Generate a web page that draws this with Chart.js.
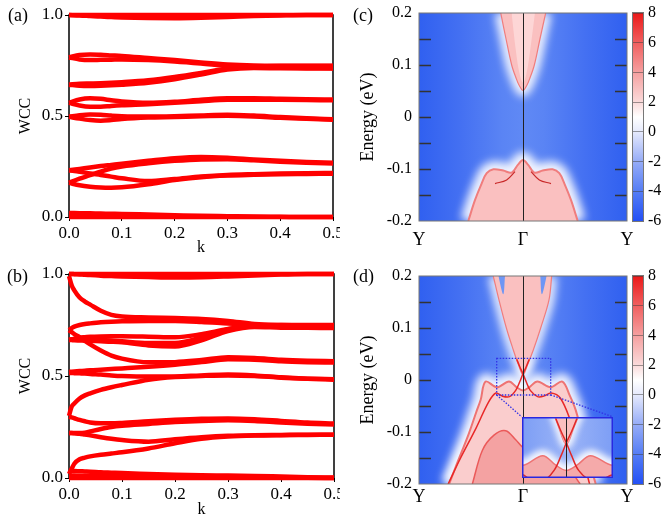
<!DOCTYPE html>
<html lang="en">
<head>
<meta charset="UTF-8">
<title>WCC and surface states</title>
<script src="https://cdn.jsdelivr.net/npm/chart.js"></script>
<style>
  body { margin: 0; background: #fff; }
  #fig { position: relative; width: 661px; height: 519px; overflow: hidden; font-family: 'Liberation Serif', 'Times New Roman', serif; }
  #fig canvas { position: absolute; }
  .tag { position: absolute; font-size: 18px; line-height: 20px; color: #000; }
</style>
</head>
<body>
<div id="fig">
  <canvas id="ca" width="340" height="258" style="left:0;top:0"></canvas>
  <canvas id="cb" width="340" height="261" style="left:0;top:258px"></canvas>
  <canvas id="cc" width="321" height="258" style="left:340px;top:0"></canvas>
  <canvas id="cd" width="321" height="261" style="left:340px;top:258px"></canvas>
  <canvas id="cbc" width="31" height="258" style="left:630px;top:0"></canvas>
  <canvas id="cbd" width="31" height="261" style="left:630px;top:258px"></canvas>
  <canvas id="cin" width="10" height="10" style="left:0;top:0"></canvas>
  <div class="tag" style="left:8px;top:5px">(a)</div>
  <div class="tag" style="left:7px;top:266px">(b)</div>
  <div class="tag" style="left:353px;top:5px">(c)</div>
  <div class="tag" style="left:353px;top:266px">(d)</div>
</div>

<script>
const SERIF = 'Liberation Serif';
const RED = 'rgb(255,0,0)';
const f = size => ({ family: SERIF, size });

// axis ticks
const kTicks = [0, 0.1, 0.2, 0.3, 0.4, 0.5];
const kLabels = ['0.0', '0.1', '0.2', '0.3', '0.4', '0.5'];
const wTicks = [0, 0.5, 1];
const wLabels = ['0.0', '0.5', '1.0'];
const pathTicks = [-1, 0, 1];
const pathLabels = ['Y', 'Γ', 'Y'];
const eTicks = [-0.2, -0.15, -0.1, -0.05, 0, 0.05, 0.1, 0.15, 0.2];
const eLabels = ['-0.2', '', '-0.1', '', '0', '', '0.1', '', '0.2'];
const cbTicks = [-6, -4, -2, 0, 2, 4, 6, 8];
const cbLabels = ['-6', '-4', '-2', '0', '2', '4', '6', '8'];

// (a) WCC, one k grid for all curves
const kA = [0, 0.02, 0.04, 0.06, 0.08, 0.1, 0.15, 0.2, 0.25, 0.3, 0.35, 0.4, 0.45, 0.5];
const aTopFlat = [1, 1, 1, 1, 1, 1, 1, 1, 1, 1, 1, 1, 1, 1];
const aTopDip = [1.0, 0.998, 0.995, 0.992, 0.99, 0.988, 0.985, 0.984, 0.986, 0.99, 0.995, 0.998, 1.0, 1.0];
const aU1 = [0.79, 0.802, 0.805, 0.803, 0.8, 0.797, 0.787, 0.777, 0.765, 0.755, 0.75, 0.749, 0.749, 0.749];
const aU2 = [0.79, 0.78, 0.777, 0.778, 0.779, 0.78, 0.777, 0.77, 0.76, 0.748, 0.742, 0.739, 0.738, 0.737];
const aL1 = [0.655, 0.66, 0.661, 0.662, 0.664, 0.667, 0.677, 0.693, 0.713, 0.735, 0.745, 0.748, 0.748, 0.748];
const aL2 = [0.655, 0.65, 0.649, 0.65, 0.652, 0.655, 0.665, 0.682, 0.705, 0.73, 0.738, 0.736, 0.735, 0.735];
const aM1 = [0.565, 0.582, 0.588, 0.585, 0.578, 0.572, 0.565, 0.57, 0.58, 0.588, 0.588, 0.585, 0.583, 0.582];
const aM2 = [0.565, 0.552, 0.546, 0.546, 0.55, 0.553, 0.558, 0.565, 0.573, 0.58, 0.581, 0.58, 0.579, 0.578];
const aN1 = [0.496, 0.504, 0.508, 0.506, 0.502, 0.499, 0.497, 0.499, 0.503, 0.506, 0.502, 0.495, 0.489, 0.484];
const aN2 = [0.496, 0.487, 0.48, 0.477, 0.48, 0.485, 0.492, 0.495, 0.499, 0.501, 0.498, 0.491, 0.486, 0.481];
const aP1 = [0.231, 0.238, 0.245, 0.252, 0.258, 0.264, 0.278, 0.291, 0.297, 0.293, 0.285, 0.278, 0.272, 0.268];
const aP2 = [0.169, 0.19, 0.207, 0.225, 0.24, 0.25, 0.266, 0.278, 0.285, 0.286, 0.281, 0.274, 0.269, 0.265];
const aP3 = [0.231, 0.224, 0.215, 0.208, 0.2, 0.192, 0.178, 0.188, 0.2, 0.208, 0.212, 0.215, 0.217, 0.218];
const aP4 = [0.169, 0.157, 0.15, 0.146, 0.145, 0.147, 0.162, 0.183, 0.197, 0.205, 0.209, 0.212, 0.213, 0.214];
const aBotTilt = [0.02, 0.019, 0.018, 0.017, 0.016, 0.015, 0.012, 0.009, 0.006, 0.004, 0.002, 0.001, 0, 0];
const aBotFlat = [0, 0, 0, 0, 0, 0, 0, 0, 0, 0, 0, 0, 0, 0];

// (b) WCC
const kB = [0, 0.005, 0.01, 0.02, 0.03, 0.04, 0.06, 0.08, 0.1, 0.15, 0.2, 0.25, 0.3, 0.35, 0.4, 0.45, 0.5];
const bTopFlat = [1, 1, 1, 1, 1, 1, 1, 1, 1, 1, 1, 1, 1, 1, 1, 1, 1];
const bTopDip = [1, 1, 0.999, 0.998, 0.996, 0.995, 0.992, 0.99, 0.988, 0.985, 0.983, 0.984, 0.988, 0.993, 0.997, 1, 1];
const bFall = [0.99, 0.945, 0.92, 0.885, 0.865, 0.85, 0.82, 0.8, 0.792, 0.787, 0.784, 0.78, 0.77, 0.755, 0.75, 0.749, 0.749];
const bA = [0.725, 0.735, 0.742, 0.75, 0.755, 0.758, 0.763, 0.766, 0.768, 0.77, 0.77, 0.765, 0.757, 0.75, 0.746, 0.745, 0.745];
const bB = [0.725, 0.715, 0.705, 0.69, 0.672, 0.655, 0.625, 0.6, 0.585, 0.567, 0.568, 0.578, 0.592, 0.588, 0.58, 0.575, 0.572];
const bC = [0.677, 0.68, 0.683, 0.688, 0.69, 0.692, 0.694, 0.695, 0.695, 0.693, 0.69, 0.705, 0.73, 0.745, 0.75, 0.75, 0.75];
const bD = [0.677, 0.678, 0.679, 0.68, 0.68, 0.679, 0.677, 0.674, 0.67, 0.662, 0.662, 0.69, 0.73, 0.745, 0.742, 0.739, 0.737];
const bE = [0.677, 0.676, 0.675, 0.674, 0.673, 0.672, 0.67, 0.668, 0.665, 0.65, 0.645, 0.675, 0.72, 0.74, 0.737, 0.736, 0.735];
const bQ1 = [0.52, 0.521, 0.522, 0.524, 0.526, 0.528, 0.531, 0.534, 0.537, 0.545, 0.555, 0.568, 0.582, 0.58, 0.572, 0.568, 0.566];
const bQ2 = [0.515, 0.515, 0.514, 0.513, 0.512, 0.51, 0.507, 0.503, 0.5, 0.497, 0.498, 0.503, 0.507, 0.503, 0.494, 0.487, 0.482];
const bG = [0.305, 0.35, 0.365, 0.39, 0.405, 0.415, 0.432, 0.445, 0.456, 0.482, 0.495, 0.5, 0.503, 0.5, 0.492, 0.487, 0.484];
const bH1 = [0.3, 0.297, 0.293, 0.285, 0.278, 0.272, 0.268, 0.268, 0.27, 0.278, 0.285, 0.29, 0.292, 0.288, 0.28, 0.272, 0.267];
const bH2 = [0.22, 0.22, 0.22, 0.22, 0.222, 0.228, 0.24, 0.25, 0.256, 0.265, 0.274, 0.28, 0.283, 0.28, 0.272, 0.266, 0.262];
const bH3 = [0.22, 0.22, 0.219, 0.217, 0.213, 0.209, 0.2, 0.192, 0.186, 0.178, 0.19, 0.2, 0.207, 0.21, 0.211, 0.212, 0.212];
const bH4 = [0.02, 0.045, 0.07, 0.092, 0.1, 0.106, 0.114, 0.12, 0.126, 0.145, 0.17, 0.192, 0.203, 0.208, 0.21, 0.211, 0.212];
const bZ1 = [0.035, 0.035, 0.034, 0.033, 0.032, 0.031, 0.028, 0.026, 0.024, 0.02, 0.016, 0.013, 0.012, 0.01, 0.007, 0.004, 0.002];
const bZ2 = [0.012, 0.012, 0.012, 0.011, 0.011, 0.01, 0.01, 0.009, 0.008, 0.006, 0.005, 0.005, 0.006, 0.005, 0.003, 0.001, 0];
const bZ3 = [0, 0, 0, 0, 0, 0, 0, 0, 0, 0, 0, 0, 0, 0, 0, 0, 0];

// (c) band edges, k along Y-Γ-Y (Γ = 0, Y = ±1), E in eV
const cCondK = [-0.214, -0.163, -0.109, -0.067, -0.035, 0, 0.035, 0.067, 0.109, 0.163, 0.218];
const cCondE = [0.2, 0.15, 0.1, 0.075, 0.06, 0.051, 0.06, 0.075, 0.1, 0.15, 0.2];
const cCoreK = [-0.11, -0.07, -0.035, 0, 0.035, 0.07, 0.115];
const cCoreE = [0.2, 0.13, 0.085, 0.066, 0.085, 0.13, 0.2];
const cValK = [-0.526, -0.462, -0.397, -0.349, -0.285, -0.19, -0.109, -0.05, 0, 0.05, 0.109, 0.19, 0.285, 0.349, 0.397, 0.462, 0.526];
const cValE = [-0.2, -0.16, -0.1275, -0.108, -0.1006, -0.103, -0.107, -0.092, -0.0827, -0.092, -0.107, -0.103, -0.1006, -0.108, -0.1275, -0.16, -0.2];
const cArcLK = [-0.269, -0.157, -0.077];
const cArcLE = [-0.128, -0.121, -0.105];
const cArcRK = [0.077, 0.157, 0.269];
const cArcRE = [-0.105, -0.121, -0.128];

// (d)
const dCondK = [-0.286, -0.231, -0.16, -0.093, -0.045, 0, 0.045, 0.099, 0.17, 0.25, 0.276];
const dCondE = [0.2, 0.154, 0.1, 0.0577, 0.03, 0.01, 0.03, 0.0577, 0.1, 0.154, 0.2];
const dSliverLK = [-0.237, -0.19, -0.173];
const dSliverLE = [0.2, 0.165, 0.2];
const dSliverRK = [0.165, 0.182, 0.228];
const dSliverRE = [0.2, 0.165, 0.2];
const dValK = [-0.71, -0.647, -0.519, -0.45, -0.407, -0.36, -0.25, -0.135, -0.06, 0, 0.06, 0.138, 0.266, 0.378, 0.45, 0.507, 0.6, 0.699];
const dValE = [-0.2, -0.167, -0.102, -0.062, -0.038, -0.003, -0.014, -0.003, -0.014, -0.02, -0.014, -0.003, -0.014, -0.003, -0.03, -0.058, -0.128, -0.2];
const dDomeK = [-0.487, -0.39, -0.279, -0.167, -0.07, 0, 0.1, 0.25, 0.4, 0.55];
const dDomeE = [-0.2, -0.135, -0.106, -0.0975, -0.115, -0.13, -0.14, -0.145, -0.16, -0.2];
const dSurfLK = [-0.72, -0.6, -0.45, -0.33, -0.26, -0.2, -0.13, -0.07, -0.03, 0, 0.03, 0.06];
const dSurfLE = [-0.2, -0.15, -0.092, -0.042, -0.025, -0.031, -0.032, -0.02, -0.003, 0.012, 0.025, 0.04];
const dSurfRK = [-0.06, -0.03, 0, 0.03, 0.07, 0.14, 0.2, 0.27, 0.36, 0.46, 0.56, 0.64];
const dSurfRE = [0.04, 0.025, 0.012, -0.003, -0.02, -0.032, -0.031, -0.025, -0.035, -0.08, -0.14, -0.2];

// zoomed window of (d) and where its inset sits, in (k, E)
const ZOOM_K = [-0.253, 0.266];
const ZOOM_E = [-0.0288, 0.0417];
const INSET_K = [-0.0125, 0.862];
const INSET_E = [-0.188, -0.0706];

Chart.defaults.font.family = SERIF;
Chart.defaults.color = '#000';

const pts = (xs, ys) => xs.map((v, i) => ({ x: v, y: ys[i] }));

// black box around the WCC plots, under the dots
const wccFrame = {
  id: 'wccFrame',
  beforeDatasetsDraw(chart) {
    const { ctx, chartArea: a } = chart;
    ctx.save();
    ctx.strokeStyle = '#000';
    ctx.lineWidth = 1.5;
    ctx.strokeRect(a.left, a.top, a.width, a.height);
    ctx.restore();
  }
};

function wccChart(id, kGrid, curves, pad, xH, titleBottom) {
  return new Chart(document.getElementById(id), {
    type: 'line',
    data: {
      datasets: curves.map(w => ({
        data: pts(kGrid, w),
        borderColor: RED,
        borderWidth: 4.5,
        pointRadius: 0,
        cubicInterpolationMode: 'monotone',
        fill: false,
        clip: 6
      }))
    },
    options: {
      responsive: false,
      animation: false,
      layout: { padding: pad },
      plugins: { legend: { display: false }, tooltip: { enabled: false } },
      scales: {
        x: {
          type: 'linear', min: 0, max: 0.5,
          afterBuildTicks: s => { s.ticks = kTicks.map(v => ({ value: v })); },
          ticks: { callback: (v, i) => kLabels[i], font: f(17), color: '#000', padding: 2, maxRotation: 0, autoSkip: false },
          grid: { drawOnChartArea: false, tickLength: 4, color: '#000' },
          border: { display: false },
          title: { display: true, text: 'k', font: f(16), color: '#000', padding: { top: 0, bottom: titleBottom } },
          afterFit: s => { s.height = xH; s.paddingLeft = 0; s.paddingRight = 0; }
        },
        y: {
          type: 'linear', min: 0, max: 1,
          afterBuildTicks: s => { s.ticks = wTicks.map(v => ({ value: v })); },
          ticks: { callback: (v, i) => wLabels[i], font: f(17), color: '#000', padding: 2, autoSkip: false },
          grid: { drawOnChartArea: false, tickLength: 4, color: '#000' },
          border: { display: false },
          title: { display: true, text: 'WCC', font: f(16), color: '#000', padding: { top: 16, bottom: 0 } },
          afterFit: s => { s.width = 69; s.paddingTop = 0; s.paddingBottom = 0; }
        }
      }
    },
    plugins: [wccFrame]
  });
}

wccChart('ca', kA,
  [aTopFlat, aTopDip, aU1, aU2, aL1, aL2, aM1, aM2, aN1, aN2, aP1, aP2, aP3, aP4, aBotTilt, aBotFlat],
  { top: 15, right: 7, left: 0, bottom: 0 }, 41, 1);

wccChart('cb', kB,
  [bTopFlat, bTopDip, bFall, bA, bB, bC, bD, bE, bQ1, bQ2, bG, bH1, bH2, bH3, bH4, bZ1, bZ2, bZ3],
  { top: 16, right: 6, left: 0, bottom: 0 }, 41, 0);

// background, soft white halo along every band edge, Γ line, inner ticks, frame
const heat = {
  id: 'heat',
  beforeDatasetsDraw(chart, args, o) {
    const { ctx, chartArea: a } = chart;
    const g = ctx.createLinearGradient(a.left, 0, a.right, 0);
    o.bg.forEach(s => g.addColorStop(s[0], s[1]));
    ctx.save();
    ctx.fillStyle = g;
    ctx.fillRect(a.left, a.top, a.width, a.height);
    ctx.beginPath();
    ctx.rect(a.left, a.top, a.width, a.height);
    ctx.clip();
    ctx.filter = 'blur(' + o.blur + 'px)';
    ctx.strokeStyle = 'rgba(255,255,255,0.9)';
    chart.data.datasets.forEach((ds, i) => {
      if (!ds.glow) return;
      const meta = chart.getDatasetMeta(i);
      const line = meta.dataset;
      line.updateControlPoints(a, meta.indexAxis);
      ctx.lineWidth = ds.glow;
      ctx.beginPath();
      line.path(ctx);
      ctx.stroke();
    });
    ctx.restore();
  },
  afterDatasetsDraw(chart, args, o) {
    const { ctx, chartArea: a, scales: { x, y } } = chart;
    ctx.save();
    ctx.beginPath();
    ctx.rect(a.left, a.top, a.width, a.height);
    ctx.clip();
    const gx = Math.round(x.getPixelForValue(0)) + 0.5;
    ctx.strokeStyle = '#222';
    ctx.lineWidth = 1;
    ctx.beginPath();
    ctx.moveTo(gx, a.top);
    ctx.lineTo(gx, a.bottom);
    ctx.stroke();
    if (o.ticks) {
      ctx.strokeStyle = '#333';
      ctx.lineWidth = 1.5;
      y.ticks.forEach(t => {
        if (t.value <= y.min || t.value >= y.max) return;
        const py = Math.round(y.getPixelForValue(t.value)) + 0.5;
        ctx.beginPath();
        ctx.moveTo(a.left, py); ctx.lineTo(a.left + 12, py);
        ctx.moveTo(a.right, py); ctx.lineTo(a.right - 12, py);
        ctx.stroke();
      });
    }
    ctx.restore();
    ctx.save();
    ctx.strokeStyle = o.frame;
    ctx.lineWidth = o.frameW;
    const h = o.frameW / 2;
    ctx.strokeRect(a.left + h - 0.5, a.top + h - 0.5, a.width - o.frameW + 1, a.height - o.frameW + 1);
    ctx.restore();
  }
};

const zoomBox = {
  id: 'zoomBox',
  afterDraw(chart) {
    const { ctx, scales: { x, y } } = chart;
    const x0 = x.getPixelForValue(ZOOM_K[0]), x1 = x.getPixelForValue(ZOOM_K[1]);
    const yt = y.getPixelForValue(ZOOM_E[1]), yb = y.getPixelForValue(ZOOM_E[0]);
    const ix0 = x.getPixelForValue(INSET_K[0]), ix1 = x.getPixelForValue(INSET_K[1]);
    const iy = y.getPixelForValue(INSET_E[1]);
    ctx.save();
    ctx.strokeStyle = 'rgb(50,50,230)';
    ctx.lineWidth = 1.3;
    ctx.setLineDash([1.5, 1.5]);
    ctx.strokeRect(x0, yt, x1 - x0, yb - yt);
    ctx.beginPath();
    ctx.moveTo(x0, yb); ctx.lineTo(ix0, iy);
    ctx.moveTo(x1, yb); ctx.lineTo(ix1, iy);
    ctx.stroke();
    ctx.restore();
  }
};

const PINK = 'rgb(250,192,192)';
const EDGE = 'rgb(240,125,125)';
const BG = [[0, 'rgb(48,96,240)'], [0.2, 'rgb(68,112,242)'], [0.4, 'rgb(90,132,244)'], [0.5, 'rgb(96,137,245)'],
  [0.6, 'rgb(90,132,244)'], [0.8, 'rgb(68,112,242)'], [1, 'rgb(48,96,240)']];
const INSET_BG = [[0, 'rgb(125,158,245)'], [0.5, 'rgb(155,180,247)'], [1, 'rgb(125,158,245)']];

function band(k, e, fill, bg, edge, w, glow) {
  return { data: pts(k, e), fill, backgroundColor: bg, borderColor: edge, borderWidth: w, pointRadius: 0, tension: 0.35, glow };
}

function heatChart(id, sets, pad, xH, xPad, extra) {
  return new Chart(document.getElementById(id), {
    type: 'line',
    data: { datasets: sets },
    options: {
      responsive: false,
      animation: false,
      layout: { padding: pad },
      plugins: { legend: { display: false }, tooltip: { enabled: false }, heat: { bg: BG, blur: 4, ticks: true, frame: '#777', frameW: 1 } },
      scales: {
        x: {
          type: 'linear', min: -1, max: 1,
          afterBuildTicks: s => { s.ticks = pathTicks.map(v => ({ value: v })); },
          ticks: { callback: (v, i) => pathLabels[i], font: f(18), color: '#000', padding: xPad, maxRotation: 0, autoSkip: false },
          grid: { display: false, drawTicks: false },
          border: { display: false },
          afterFit: s => { s.height = xH; s.paddingLeft = 0; s.paddingRight = 0; }
        },
        y: {
          type: 'linear', min: -0.2, max: 0.2,
          afterBuildTicks: s => { s.ticks = eTicks.map(v => ({ value: v })); },
          ticks: { callback: (v, i) => eLabels[i], font: f(16), color: '#000', padding: 7, autoSkip: false },
          grid: { display: false, drawTicks: false },
          border: { display: false },
          title: { display: true, text: 'Energy (eV)', font: f(18), color: '#000', padding: { top: 17, bottom: 0 } },
          afterFit: s => { s.width = 79; s.paddingTop = 0; s.paddingBottom = 0; }
        }
      }
    },
    plugins: [heat].concat(extra)
  });
}

heatChart('cc', [
  band(cArcLK, cArcLE, false, 'transparent', 'rgb(200,40,40)', 1.2),
  band(cArcRK, cArcRE, false, 'transparent', 'rgb(200,40,40)', 1.2),
  band(cCoreK, cCoreE, 'end', 'rgb(253,214,214)', 'rgba(0,0,0,0)', 0),
  band(cCondK, cCondE, 'end', PINK, EDGE, 1.2, 12),
  band(cValK, cValE, 'start', PINK, EDGE, 2, 16)
], { top: 13, right: 34, left: 0, bottom: 0 }, 37, 8, []);

const chartD = heatChart('cd', [
  band(dSurfLK, dSurfLE, false, 'transparent', 'rgb(232,40,40)', 1.5, 6),
  band(dSurfRK, dSurfRE, false, 'transparent', 'rgb(232,40,40)', 1.5),
  band(dSliverLK, dSliverLE, 'end', 'rgb(110,150,245)', 'rgba(0,0,0,0)', 0),
  band(dSliverRK, dSliverRE, 'end', 'rgb(110,150,245)', 'rgba(0,0,0,0)', 0),
  band(dCondK, dCondE, 'end', PINK, EDGE, 1.2, 10),
  band(dDomeK, dDomeE, 'start', 'rgb(244,162,162)', 'rgb(235,90,90)', 1.5, 10),
  band(dValK, dValE, 'start', 'rgb(250,205,205)', 'rgb(238,115,115)', 2, 16)
], { top: 18, right: 34, left: 0, bottom: 0 }, 35, 2, [zoomBox]);

// inset: same (d) bands seen through the zoom window
{
  const xs = chartD.scales.x, ys = chartD.scales.y;
  const l = Math.round(xs.getPixelForValue(INSET_K[0]));
  const r = Math.round(xs.getPixelForValue(INSET_K[1]));
  const t = Math.round(ys.getPixelForValue(INSET_E[1]));
  const b = Math.round(ys.getPixelForValue(INSET_E[0]));
  const cv = document.getElementById('cin');
  cv.width = r - l; cv.height = b - t;
  cv.style.left = (340 + l) + 'px';
  cv.style.top = (258 + t) + 'px';
  new Chart(cv, {
    type: 'line',
    data: {
      datasets: [
        band(dSurfLK, dSurfLE, false, 'transparent', 'rgb(225,40,40)', 1.5),
        band(dSurfRK, dSurfRE, false, 'transparent', 'rgb(225,40,40)', 1.5),
        band(dCondK, dCondE, 'end', PINK, EDGE, 1, 8),
        band(dValK, dValE, 'start', 'rgb(245,170,170)', 'rgb(238,115,115)', 1.5, 12)
      ]
    },
    options: {
      responsive: false,
      animation: false,
      layout: { padding: 0 },
      plugins: { legend: { display: false }, tooltip: { enabled: false }, heat: { bg: INSET_BG, blur: 3, ticks: false, frame: 'rgb(40,40,225)', frameW: 2 } },
      scales: {
        x: { type: 'linear', display: false, min: ZOOM_K[0], max: ZOOM_K[1] },
        y: { type: 'linear', display: false, min: ZOOM_E[0], max: ZOOM_E[1] }
      }
    },
    plugins: [heat]
  });
}

// colour bars
const CB_STOPS = [[0, 'rgb(35,80,245)'], [0.143, 'rgb(85,125,245)'], [0.286, 'rgb(150,172,247)'], [0.43, 'rgb(230,234,252)'],
  [0.5, 'rgb(255,255,255)'], [0.571, 'rgb(250,218,218)'], [0.714, 'rgb(245,160,160)'], [0.857, 'rgb(240,95,95)'], [1, 'rgb(235,25,25)']];

const cbPaint = {
  id: 'cbPaint',
  beforeDraw(chart) {
    const { ctx, chartArea: a } = chart;
    const g = ctx.createLinearGradient(0, a.bottom, 0, a.top);
    CB_STOPS.forEach(s => g.addColorStop(s[0], s[1]));
    ctx.save();
    ctx.fillStyle = g;
    ctx.fillRect(a.left, a.top, a.width, a.height);
    ctx.restore();
  },
  afterDraw(chart) {
    const { ctx, chartArea: a } = chart;
    ctx.save();
    ctx.strokeStyle = '#777';
    ctx.lineWidth = 1;
    ctx.strokeRect(a.left - 0.5, a.top - 0.5, a.width + 1, a.height + 1);
    ctx.restore();
  }
};

function colorbar(id, top, bottom) {
  return new Chart(document.getElementById(id), {
    type: 'line',
    data: { datasets: [] },
    options: {
      responsive: false,
      animation: false,
      layout: { padding: { left: 3, top, bottom, right: 0 } },
      plugins: { legend: { display: false }, tooltip: { enabled: false } },
      scales: {
        x: { type: 'linear', display: false },
        y: {
          type: 'linear', position: 'right', min: -6, max: 8,
          afterBuildTicks: s => { s.ticks = cbTicks.map(v => ({ value: v })); },
          ticks: { callback: (v, i) => cbLabels[i], font: f(16), color: '#000', padding: 5, autoSkip: false },
          grid: { drawTicks: false, color: 'rgba(60,60,60,0.5)', lineWidth: 1 },
          border: { display: false },
          afterFit: s => { s.width = 18; s.paddingTop = 0; s.paddingBottom = 0; }
        }
      }
    },
    plugins: [cbPaint]
  });
}

colorbar('cbc', 13, 37);
colorbar('cbd', 18, 35);
</script>
</body>
</html>
